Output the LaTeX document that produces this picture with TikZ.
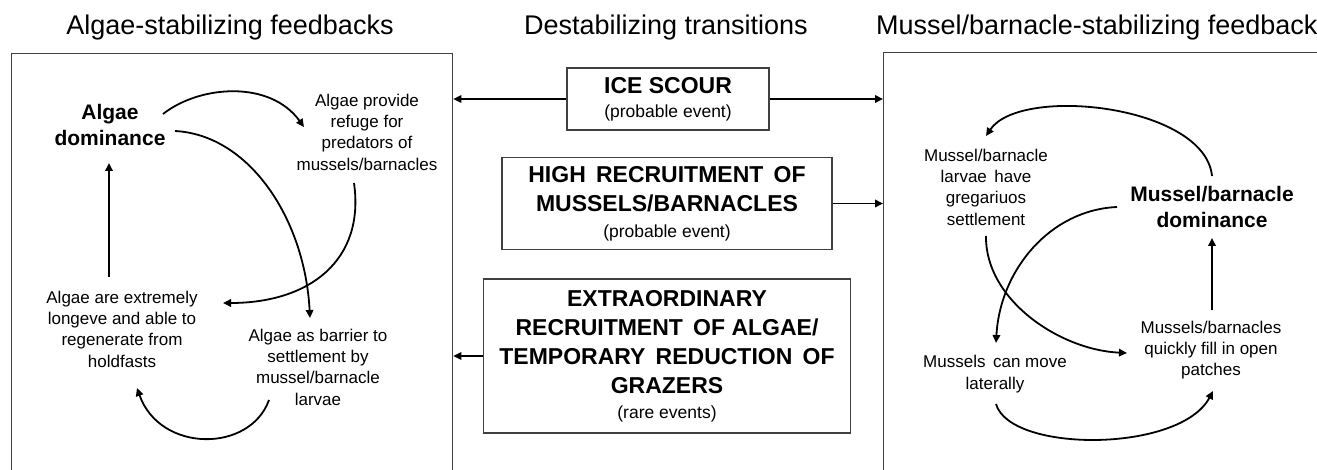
\documentclass[tikz,border=0pt]{standalone}
\usepackage{fontspec}
\setmainfont{Liberation Sans}
\usetikzlibrary{arrows.meta}
\begin{document}
\begin{tikzpicture}[x=1pt,y=-1pt,
  arr/.style={line width=1.8pt,-{Triangle[length=8pt,width=7.5pt]}},
  panel/.style={draw=black!75,line width=1.3pt,inner sep=0pt,anchor=north west},
  cbox/.style={draw=black!75,line width=1.3pt,align=center,inner sep=0pt,
    font=\fontsize{23}{29}\selectfont\bfseries},
  sm/.style={},
  ttl/.style={font=\fontsize{27}{32}\selectfont,anchor=base,inner sep=0pt},
  lbl/.style={font=\fontsize{17}{21.3}\selectfont,align=center,inner sep=1pt},
  dom/.style={font=\fontsize{21}{26}\selectfont\bfseries,align=center,inner sep=1pt}
]
\newcommand{\evt}[1]{{\fontsize{17.5}{21}\selectfont\mdseries #1}}
\clip (0,0) rectangle (1317,470);
\fill[white] (0,0) rectangle (1317,470);

% titles
\node[ttl] (t1) at (230,35) {Algae-stabilizing feedbacks};
\node[ttl] (t2) at (666,35) {Destabilizing transitions};
\node[ttl,anchor=base west] (t3) at (876,35) {Mussel/barnacle-stabilizing feedbacks};

% panels
\node[panel,minimum width=441pt,minimum height=440pt] (L) at (11,53) {};
\node[panel,minimum width=450pt,minimum height=440pt] (R) at (883,52) {};

% center boxes
\node[cbox,minimum width=202pt,minimum height=62pt] (ice) at (668,99)
  {ICE SCOUR\\[-5pt]\evt{(probable event)}};
\node[cbox,minimum width=330pt,minimum height=91.6pt] (high) at (667,203.5)
  {HIGH\, RECRUITMENT\, OF\\MUSSELS/BARNACLES\\[-3pt]\evt{(probable event)}};
\node[cbox,minimum width=367pt,minimum height=154pt] (extra) at (667,356)
  {EXTRAORDINARY\\RECRUITMENT\, OF ALGAE/\\TEMPORARY\, REDUCTION\, OF\\GRAZERS\\[-4pt]\evt{(rare events)}};

\draw[arr] (ice.west) -- (ice.west -| L.east);
\draw[arr] (ice.east) -- (ice.east -| R.west);
\draw[arr] (high.east) -- (high.east -| R.west);
\draw[arr] (extra.west) -- (extra.west -| L.east);

% left panel
\node[dom] (ad) at (110,125) {Algae\\dominance};
\node[lbl] (ref) at (367,132) {Algae provide\\refuge for\\predators of\\mussels/barnacles};
\node[lbl] (lon) at (122,329) {Algae are extremely\\longeve and able to\\regenerate from\\holdfasts};
\node[lbl] (bar) at (318,367) {Algae as barrier to\\settlement by\\mussel/barnacle\\larvae};

\coordinate (a1s) at (163,114);
\coordinate (a1e) at (304,127);
\coordinate (a2s) at (175,131);
\coordinate (a2e) at (310,318);
\coordinate (a3s) at (354,183);
\coordinate (a3e) at (223,303);
\coordinate (a4s) at (109,277);
\coordinate (a4e) at (109,163);
\coordinate (a5s) at (269,400);
\coordinate (a5e) at (137,388);

\draw[arr] (a1s) .. controls (200,85) and (270,80) .. (a1e);
\draw[arr] (a2s) .. controls (250,135) and (305,220) .. (a2e);
\draw[arr] (a3s) .. controls (365,260) and (310,303) .. (a3e);
\draw[arr] (a4s) -- (a4e);
\draw[arr] (a5s) .. controls (250,453) and (160,453) .. (a5e);

% right panel
\node[dom] (md) at (1212,207) {Mussel/barnacle\\dominance};
\node[lbl] (lar) at (986,187) {Mussel/barnacle\\larvae\, have\\gregariuos\\settlement};
\node[lbl] (mov) at (995,374) {Mussels\, can move\\laterally};
\node[lbl] (fill) at (1211,350) {Mussels/barnacles\\quickly fill in open\\patches};

\coordinate (b1s) at (1212,176);
\coordinate (b1e) at (986,136);
\coordinate (b2s) at (1117,207);
\coordinate (b2e) at (996,343);
\coordinate (b3s) at (986,236);
\coordinate (b3e) at (1127,353);
\coordinate (b4s) at (1212,310);
\coordinate (b4e) at (1212,238);
\coordinate (b5s) at (996,404);
\coordinate (b5e) at (1213,391);

\draw[arr] (b1s) .. controls (1205,105) and (1020,85) .. (b1e);
\draw[arr] (b2s) .. controls (1050,210) and (1000,270) .. (b2e);
\draw[arr] (b3s) .. controls (985,300) and (1060,350) .. (b3e);
\draw[arr] (b4s) -- (b4e);
\draw[arr] (b5s) .. controls (1010,453) and (1180,453) .. (b5e);
\end{tikzpicture}
\end{document}
